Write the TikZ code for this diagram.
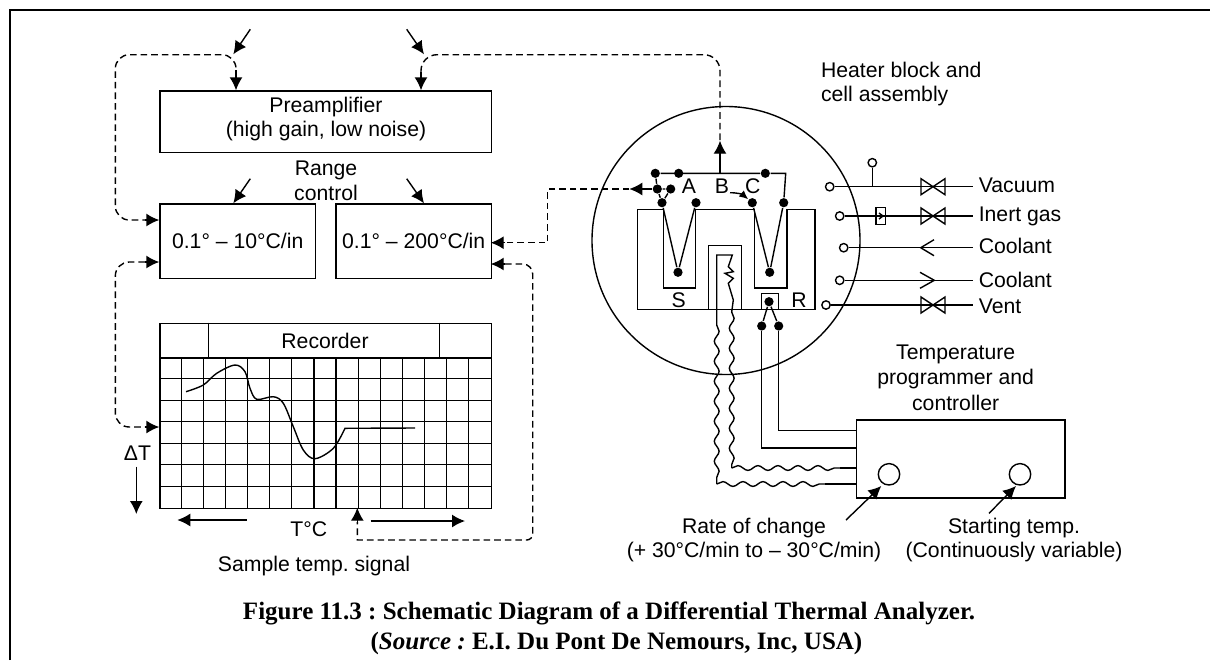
\documentclass[tikz,border=0pt]{standalone}
\usepackage{fontspec}
\setmainfont{Liberation Sans}
\newfontfamily\capfont{Liberation Serif}
\usetikzlibrary{arrows, arrows.meta, shapes, positioning, decorations.pathmorphing}
\frenchspacing

\begin{document}
\begin{tikzpicture}[x=0.5pt,y=-0.5pt,font=\fontsize{10.6}{12}\selectfont,>=Latex,line width=0.7pt,every node/.style={inner sep=0pt,align=center}]

	\tikzset{node box/.style={draw, rectangle, anchor=north west}}
	\tikzset{node dot/.style={circle, fill=black, minimum size=4.6pt}}
	\tikzset{node port/.style={circle, draw, fill=white, minimum size=4.2pt}}
	\tikzset{node dial/.style={circle, draw, minimum size=10.7pt}}
	\tikzset{node lab/.style={anchor=west, align=left, inner xsep=2.7pt}}
	\tikzset{node cap/.style={anchor=base, font=\capfont\bfseries\fontsize{12.5}{14}\selectfont}}
	\tikzset{wire dash/.style={dashed, dash pattern=on 3.3pt off 2pt}}
	\tikzset{wire wavy/.style={decorate, decoration={snake, amplitude=1.2pt, segment length=10pt}}}
	\tikzset{big tip/.style={-{Latex[length=6.5pt,width=6.5pt]}}}

	\useasboundingbox (0,0) rectangle (1210,660);
	\draw[line width=1.25pt] (10,660) -- (10,10) -- (1210,10);

	% left hand boxes
	\node[node box, minimum width=165.7pt, minimum height=30.7pt] (preamp) at (159.3,90.3) {};
	\node at (326,106.7) {Preamplifier};
	\node at (326,130.7) {(high gain, low noise)};
	\node at (326,170) {Range};
	\node at (326,193.3) {control};
	\node[node box, text depth=0pt, minimum width=77.7pt, minimum height=37.2pt] (rangeA) at (159.3,203.3) {0.1° -- 10°C/in};
	\node[node box, text depth=0pt, minimum width=77.7pt, minimum height=37.2pt] (rangeB) at (335.3,203.3) {0.1° -- 200°C/in};

	% recorder
	\node[node box, minimum width=165.7pt, minimum height=17.3pt] (rectop) at (159.3,322.7) {};
	\node at (325,340.7) {Recorder};
	\draw (208.7,322.7) -- (208.7,357.3) (439.3,322.7) -- (439.3,357.3);
	\node[node box, minimum width=165.7pt, minimum height=75.2pt] (grid) at (159.3,357.3) {};
	\foreach \i in {1,...,14}
		\draw[line width=0.6pt] (159.3+22.09*\i,357.3) -- (159.3+22.09*\i,507.7);
	\foreach \j in {1,...,6}
		\draw[line width=0.6pt] (159.3,357.3+21.49*\j) -- (490.7,357.3+21.49*\j);
	\draw plot[smooth,tension=0.55] coordinates {(186,391.7) (203.3,385) (216.7,373.3) (235,365) (245,371.7) (250,388.3) (256.7,399.3) (273.3,396.7) (283.3,403.3) (293.3,426.7) (303.3,450) (315,458.7) (333.3,448.3) (345,428.3)} -- (415,428);

	\node (dT) at (137.5,453) {ΔT};
	\node (tC) at (308.7,529) {T°C};
	\node (signal) at (314,566) {Sample temp. signal};
	\coordinate (dTend) at (136.3,514);
	\draw[big tip] (136.3,466.7) -- (dTend);
	\coordinate (tleft) at (177.3,520);
	\coordinate (tright) at (465,521);
	\draw[big tip] (246.7,520) -- (tleft);
	\draw[big tip] (370.7,521) -- (tright);

	% input arrows
	\foreach \xa/\xb/\ya/\yb in {250.3/233.3/29.3/54.3, 406.7/424/29.3/54.3, 250.3/233.3/178.7/203.3, 406.7/424/178.7/203.3}
		\draw[big tip] (\xa,\ya) -- (\xb,\yb);

	% cell
	\node[circle, draw, minimum size=134pt] (cell) at (726,240.5) {};
	\draw (663.3,209.3) -- (637.7,209.3) -- (637.7,309.3) -- (815,309.3) -- (815,209.3) -- (787,209.3) -- (787,288) -- (754.7,288) -- (754.7,209.3) -- (695.7,209.3) -- (695.7,288) -- (663.3,288) -- cycle;
	\draw (708.3,309.3) -- (708.3,245.3) -- (741.7,245.3) -- (741.7,309.3);
	\draw (761.3,309.3) -- (761.3,293.7) -- (778.7,293.7) -- (778.7,309.3);

	\node[node dot] (a1) at (655.3,173.3) {};
	\node[node dot] (a2) at (678.7,173.3) {};
	\node[node dot] (c1) at (765.3,173.3) {};
	\node[node dot] (j1) at (657.3,189) {};
	\node[node dot] (j2) at (670.7,189) {};
	\node[node dot] (s1) at (662,202.7) {};
	\node[node dot] (s2) at (696,202.7) {};
	\node[node dot] (s3) at (678,272.3) {};
	\node[node dot] (r1) at (752.3,202.7) {};
	\node[node dot] (r2) at (783.7,202.7) {};
	\node[node dot] (r3) at (769.7,272.3) {};
	\node[node dot] (t1) at (769,301.7) {};
	\node[node dot] (t2) at (761.7,326) {};
	\node[node dot] (t3) at (778.7,326) {};
	\node at (689,186) {A};
	\node at (722,186) {B};
	\node at (752.7,186) {C};
	\node at (678.7,300) {S};
	\node at (799,300) {R};

	\draw (a1) -- (c1) -- (785.7,173.3) -- (r2);
	\draw (a1) -- (j1) -- (s1) -- (s3) -- (s2);
	\draw (j1) -- (j2) -- (s1);
	\draw (r1) -- (r3) -- (r2);
	\draw (t2) -- (t1) -- (t3);
	\coordinate (heat) at (730,192.7);
	\draw[-{Latex[length=4.5pt,width=4pt]}] (heat) to[out=0,in=140] (r1);
	\coordinate (bus) at (720,173.3);
	\coordinate (bustop) at (720,140.7);
	\draw[big tip] (bus) -- (bustop);
	\coordinate (sigout) at (629.3,189);
	\draw[big tip] (j1) -- (sigout);

	% wires to the programmer
	\node[node box, minimum width=104.3pt, minimum height=39pt] (prog) at (855.7,419.3) {};
	\node[node dial] (dial1) at (889,474.3) {};
	\node[node dial] (dial2) at (1020,474.3) {};
	\draw (t2) |- (855.7,448);
	\draw (t3) |- (855.7,430.7);
	\draw (716.7,325) -- (716.7,255) -- (732.3,255) -- (728.3,266.7) -- (733.3,271.7) -- (725,273.3) -- (733.3,278.3) -- (728.3,283.3) -- (733.3,300) -- (731.7,312);
	\draw[wire wavy] (716.7,325) -- (716.7,484);
	\draw[wire wavy] (716.7,484) -- (825,484);
	\draw (825,484) -- (855.7,484);
	\draw[wire wavy] (731.7,312) -- (731.7,468);
	\draw[wire wavy] (731.7,468) -- (840,468);
	\draw (840,468) -- (855.7,468);

	% feedback lines
	\draw[wire dash, rounded corners=7pt] (236,78) -- (236,54.7) -- (115.3,54.7) -- (115.3,220) -- (145,220);
	\draw[big tip] (236,70) -- (236,90.3);
	\draw[big tip] (145,220) -- (159.3,220);
	\draw[wire dash, rounded corners=8pt] (720,140) -- (720,54.7) -- (421,54.7) -- (421,76);
	\draw[big tip] (421,72) -- (421,90.3);
	\draw[wire dash] (sigout) -- (547.7,189) -- (547.7,242.7) -- (505,242.7);
	\draw[big tip] (505,242.7) -- (490.7,242.7);
	\draw[wire dash] (505,264) [rounded corners=5pt] -- (532.7,264) [rounded corners=3pt] -- (532.7,540) [sharp corners] -- (357.3,540) -- (357.3,522);
	\draw[big tip] (505,264) -- (490.7,264);
	\draw[big tip] (357.3,522) -- (357.3,507.7);
	\draw[wire dash, rounded corners=7pt] (145,262) -- (115.3,262) -- (115.3,427) -- (145,427);
	\draw[big tip] (145,262) -- (159.3,262);
	\draw[big tip] (145,427) -- (159.3,427);

	% gas lines
	\tikzset{valve/.pic={\draw (-12,-8) -- (12,8) -- (12,-8) -- (-12,8) -- cycle;}}
	\node[node port] (pv) at (829.7,186.7) {};
	\node[node port] (pv2) at (872.3,162.7) {};
	\node[node port] (pi) at (839.7,216) {};
	\node[node port] (pc1) at (843.7,247.7) {};
	\node[node port] (pc2) at (839.7,280.3) {};
	\node[node port] (pw) at (826,305) {};
	\node[node lab] (vac) at (972.7,185) {Vacuum};
	\node[node lab] (inert) at (972.7,216) {Inert gas};
	\node[node lab] (cool1) at (972.7,246) {Coolant};
	\node[node lab] (cool2) at (972.7,280) {Coolant};
	\node[node lab] (vent) at (972.7,306) {Vent};
	\draw (pv) -- (vac.west |- pv) (pi) -- (inert.west |- pi) (pc1) -- (cool1.west |- pc1) (pc2) -- (cool2.west |- pc2) (pw) -- (vent.west |- pw);
	\draw (pv2) -- (872.3,186.7);
	\draw (876,207.7) rectangle (885.7,224.3);
	\draw (879,213) -- (883,216) -- (879,219);
	\pic at (933,186.7) {valve};
	\pic at (933,216) {valve};
	\pic at (933,305) {valve};
	\draw (934,239.7) -- (920.7,247.7) -- (934,255.7);
	\draw (920,272.3) -- (934.3,280.3) -- (920,288.3);

	\node[node lab] at (815,69.5) {Heater block and};
	\node[node lab] at (815,96) {cell assembly};
	\node at (955.7,354.7) {Temperature};
	\node at (955.7,379) {programmer and};
	\node at (955.7,402.7) {controller};
	\node (rate) at (754,540) {Rate of change\\(+ 30°C/min to -- 30°C/min)};
	\node (start) at (1014,540) {Starting temp.\\(Continuously variable)};
	\coordinate (rtip) at (881.3,486);
	\coordinate (stip) at (1016,486);
	\draw[big tip] (846,520) -- (rtip);
	\draw[big tip] (989,513.3) -- (stip);

	\node[node cap] (cap1) at (609,619) {Figure 11.3 : Schematic Diagram of a Differential Thermal Analyzer.};
	\node[node cap] (cap2) at (616.5,649) {(\textit{Source :} E.I. Du Pont De Nemours, Inc, USA)};
\end{tikzpicture}
\end{document}
